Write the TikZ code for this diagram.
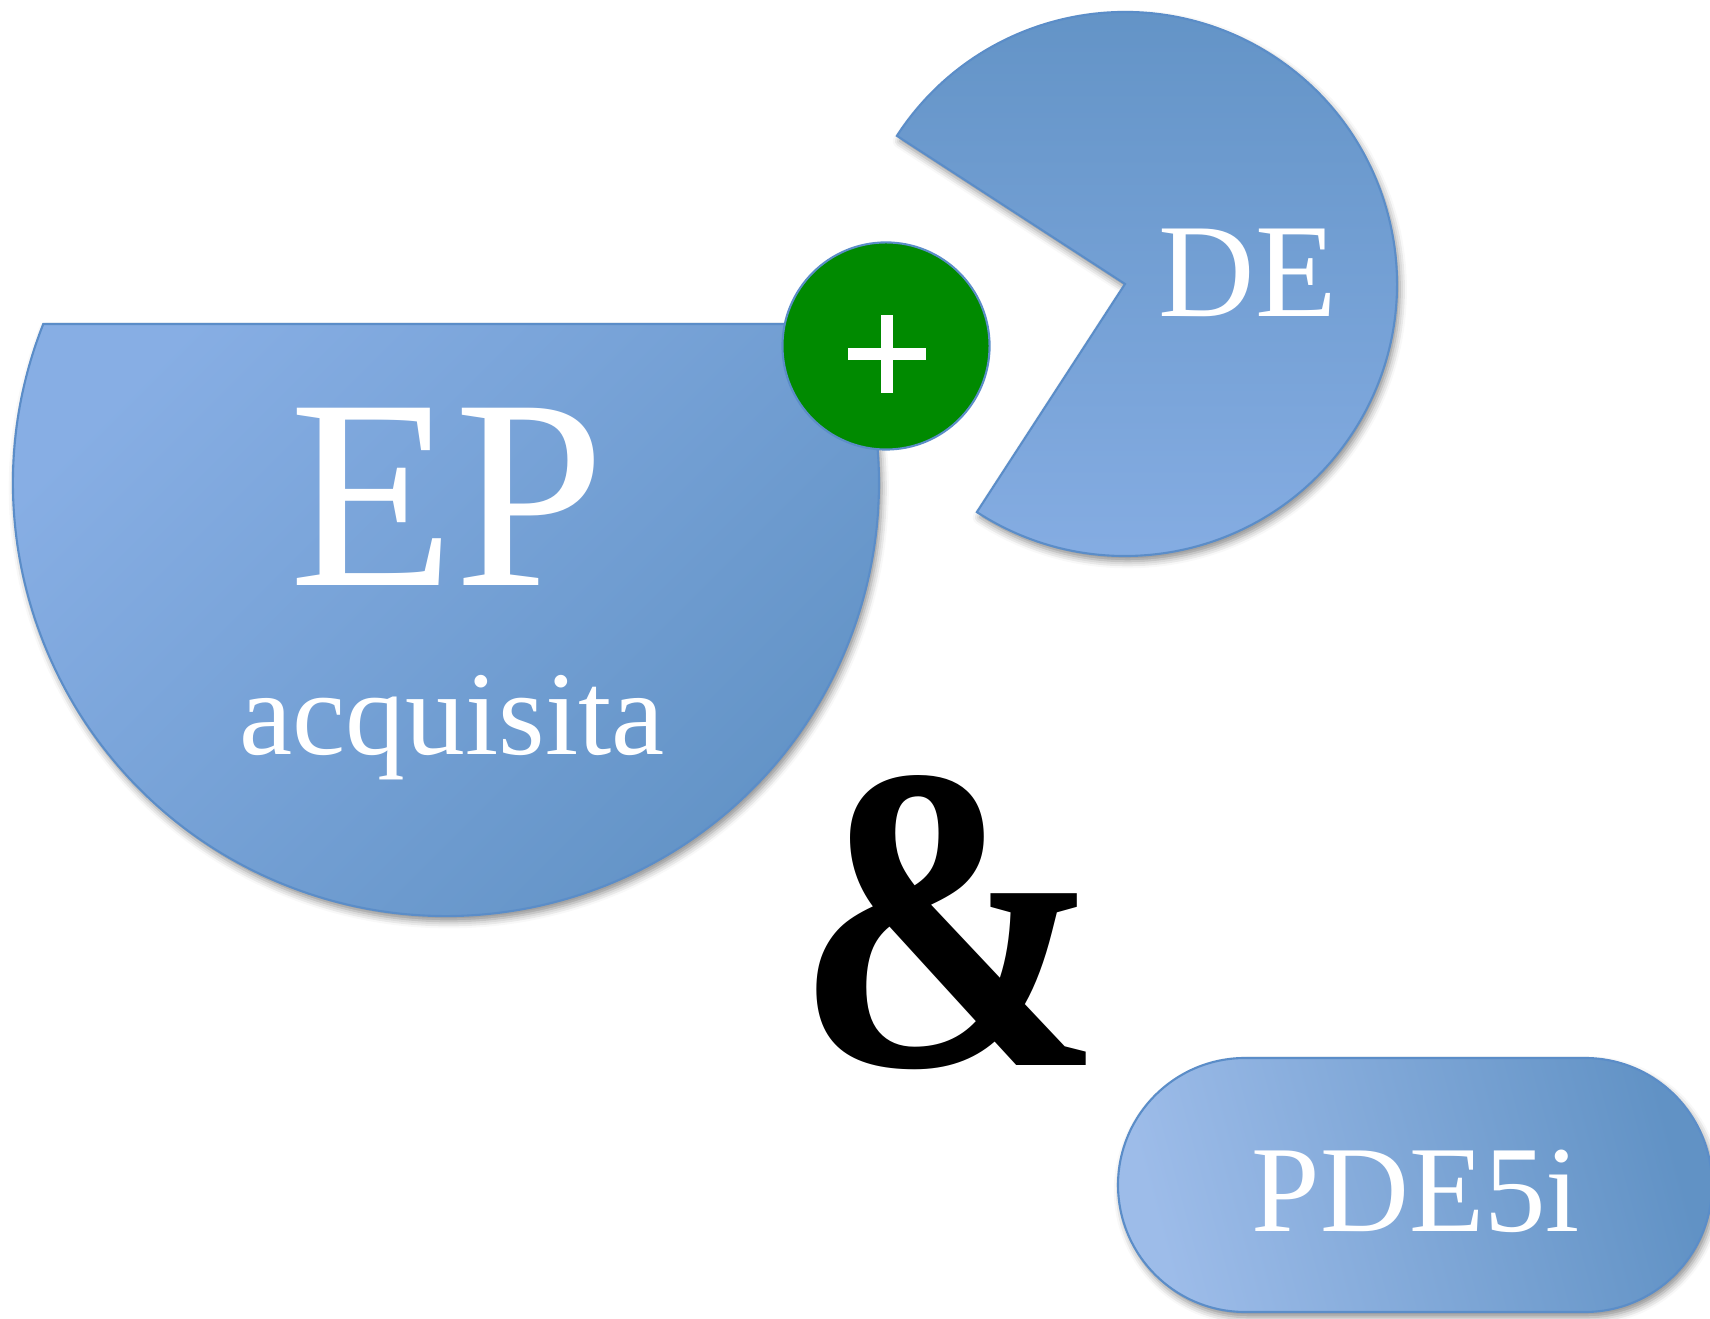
\documentclass[tikz,border=0pt]{standalone}
\usepackage{fontspec}
\setmainfont{Liberation Serif}
\usetikzlibrary{shadows.blur}

\definecolor{blueLight}{HTML}{87AEE4}
\definecolor{bluePale}{HTML}{9DBCE9}
\definecolor{blueDark}{HTML}{6192C5}
\definecolor{blueEdge}{HTML}{5B8DC8}
\definecolor{greenDisc}{HTML}{008A00}

\begin{document}
\begin{tikzpicture}[x=0.01cm, y=0.01cm,
  blob/.style={draw=blueEdge, line width=0.6pt,
    blur shadow={shadow xshift=0.8pt, shadow yshift=-1.5pt, shadow blur radius=2pt, shadow opacity=45}},
  disc/.style={circle, fill=greenDisc, draw=blueEdge, line width=0.6pt, minimum size=2.07cm, inner sep=0pt},
  lettering/.style={text=white, inner sep=0pt, anchor=base}]
% one unit is one pixel of the 1710 x 1319 frame, y up
\useasboundingbox (0,0) rectangle (1710,1319);
% EP acquisita: circle cut by a chord near the top
\path[blob, top color=blueLight, bottom color=blueDark, shading angle=45]
  (446,836) ++(158.45:433) arc[start angle=158.45, end angle=381.55, radius=433] -- cycle;
% DE: pie with its mouth to the left
\path[blob, top color=blueDark, bottom color=blueLight]
  (1125,1035) -- ++(237:272) arc[start angle=237, end angle=507, radius=272] -- cycle;
% PDE5i: stadium running off the right edge
\path[blob, rounded corners=1.27cm, top color=bluePale, bottom color=blueDark, shading angle=105]
  (1118,7) rectangle (1712,261);
% green plus disc
\node[disc] (plus) at (886,973) {};
\fill[white] ([shift={(-38,-14)}]plus.center) rectangle ([shift={(40,-2)}]plus.center);
\fill[white] ([shift={(-5,-47)}]plus.center) rectangle ([shift={(7,31)}]plus.center);
% texts
\node[lettering, font=\fontsize{77}{80}\selectfont] (ep) at (447,733) {EP};
\node[lettering, font=\fontsize{34}{36}\selectfont] (acq) at (452,564) {acquisita};
\node[lettering, font=\fontsize{38}{40}\selectfont] (de) at (1248,1002) {DE};
\node[lettering, font=\fontsize{35}{38}\selectfont] (pde) at (1416,87) {PDE5i};
\node[anchor=base, inner sep=0pt, xscale=0.85, font=\fontsize{124}{124}\selectfont\bfseries] (amp) at (950,253) {\&};
\end{tikzpicture}
\end{document}
